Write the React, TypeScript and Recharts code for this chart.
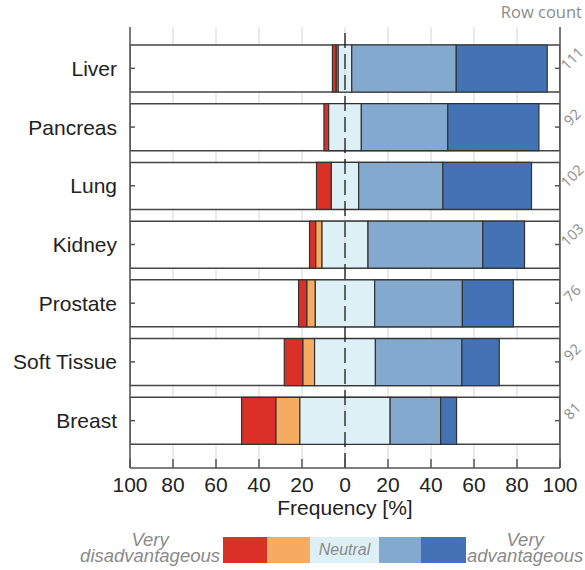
import React from 'react';
import { ComposedChart, Bar, XAxis, YAxis, CartesianGrid, ReferenceLine, Label } from 'recharts';

const categories = ['Liver', 'Pancreas', 'Lung', 'Kidney', 'Prostate', 'Soft Tissue', 'Breast'];
const rowCounts = [111, 92, 102, 103, 76, 92, 81];
const veryDisadvantageous = [1.8, 2.2, 6.9, 2.9, 3.9, 8.7, 16.0];
const disadvantageous = [0.9, 0, 0, 2.9, 3.9, 5.4, 11.1];
const neutral = [6.3, 15.2, 12.7, 21.4, 27.6, 28.3, 42.0];
const advantageous = [48.6, 40.2, 39.2, 53.4, 40.8, 40.2, 23.5];
const veryAdvantageous = [42.3, 42.4, 41.2, 19.4, 23.7, 17.4, 7.4];
const xTicks = [-100, -80, -60, -40, -20, 0, 20, 40, 60, 80, 100];

const legendLabels = ['Very disadvantageous', 'Disadvantageous', 'Neutral', 'Advantageous', 'Very advantageous'];
const COLORS = ['#da3027', '#f5ac62', '#ddf0f6', '#84a9cf', '#4373b5'];
const LEGEND_WIDTHS = [44, 43, 69, 42, 45];

const rows = categories.map((name, i) => {
  const h = neutral[i] / 2;
  const d = disadvantageous[i];
  const vd = veryDisadvantageous[i];
  const a = advantageous[i];
  const va = veryAdvantageous[i];
  return {
    name,
    box: [-100, 100],
    vd: [-(h + d + vd), -(h + d)],
    d: [-(h + d), -h],
    n: [-h, h],
    a: [h, h + a],
    va: [h + a, h + a + va],
  };
});

const FRAME = '#555555';
const SANS = '"Liberation Sans", Arial, sans-serif';
const OPEN = '"Open Sans", sans-serif';

const RowCountTick = (props: any) => {
  const { x, y, index } = props;
  const cx = x;
  const cy = y - 10;
  return (
    <text
      x={cx}
      y={cy}
      transform={`rotate(-45 ${cx} ${cy})`}
      textAnchor="middle"
      dominantBaseline="central"
      fontSize={14.5}
      fontFamily={OPEN}
      fill="#8c8c8c"
    >
      {rowCounts[index]}
    </text>
  );
};

export default function App() {
  const segStroke = '#333333';
  const yPad = { top: 12, bottom: 18 };
  return (
    <div style={{ position: 'absolute', left: 0, top: 0, width: 585, height: 570, background: '#fff' }}>
      <ComposedChart
        width={585}
        height={570}
        data={rows}
        layout="vertical"
        margin={{ top: 27, right: 5, bottom: 42, left: 10 }}
        barSize={47}
        barGap={-47}
      >
        <CartesianGrid horizontal={false} vertical={true} stroke="#dcdcdc" strokeWidth={1.2} />
        <Bar dataKey="box" fill="#ffffff" stroke="#444" strokeWidth={1.5} isAnimationActive={false} />
        <Bar dataKey="vd" fill={COLORS[0]} stroke={segStroke} strokeWidth={1.2} isAnimationActive={false} />
        <Bar dataKey="d" fill={COLORS[1]} stroke={segStroke} strokeWidth={1.2} isAnimationActive={false} />
        <Bar dataKey="n" fill={COLORS[2]} stroke={segStroke} strokeWidth={1.2} isAnimationActive={false} />
        <Bar dataKey="a" fill={COLORS[3]} stroke={segStroke} strokeWidth={1.2} isAnimationActive={false} />
        <Bar dataKey="va" fill={COLORS[4]} stroke={segStroke} strokeWidth={1.2} isAnimationActive={false} />
        <ReferenceLine x={0} stroke="#1a1a1a" strokeWidth={1.3} strokeDasharray="15 6" />
        <XAxis
          type="number"
          domain={[-100, 100]}
          ticks={xTicks}
          interval={0}
          allowDataOverflow
          height={60}
          tickSize={-9}
          tickMargin={18}
          tickFormatter={(v: number) => String(Math.abs(v))}
          tick={{ fontSize: 21, fill: '#222', fontFamily: SANS }}
          axisLine={{ stroke: FRAME, strokeWidth: 1.5 }}
          tickLine={{ stroke: FRAME, strokeWidth: 1.5 }}
        >
          <Label value="Frequency [%]" position="insideBottom" offset={13} style={{ fontSize: 21, fill: '#222', fontFamily: SANS }} />
        </XAxis>
        <XAxis
          xAxisId="top"
          orientation="top"
          type="number"
          domain={[-100, 100]}
          ticks={xTicks}
          interval={0}
          allowDataOverflow
          height={0}
          tickSize={-8}
          tick={false}
          axisLine={{ stroke: FRAME, strokeWidth: 1.5 }}
          tickLine={{ stroke: FRAME, strokeWidth: 1.5 }}
        />
        <YAxis
          type="category"
          dataKey="name"
          width={120}
          padding={yPad}
          tickSize={-5}
          tickMargin={18}
          tick={{ fontSize: 21, fill: '#222', fontFamily: SANS }}
          axisLine={{ stroke: FRAME, strokeWidth: 1.5 }}
          tickLine={{ stroke: FRAME, strokeWidth: 1.5 }}
        />
        <YAxis
          yAxisId="right"
          orientation="right"
          type="category"
          dataKey="name"
          width={20}
          padding={yPad}
          tickSize={-5}
          tickMargin={17}
          tick={<RowCountTick />}
          axisLine={{ stroke: FRAME, strokeWidth: 1.5 }}
          tickLine={{ stroke: FRAME, strokeWidth: 1.5 }}
        />
      </ComposedChart>
      <div
        style={{
          position: 'absolute',
          right: 3,
          top: 2,
          fontFamily: OPEN,
          fontSize: 16.5,
          color: '#8c8c8c',
          lineHeight: '20px',
          whiteSpace: 'nowrap',
        }}
      >
        Row count
      </div>
      <div
        style={{
          position: 'absolute',
          left: 0,
          top: 532,
          width: 220,
          textAlign: 'center',
          fontFamily: SANS,
          fontStyle: 'italic',
          fontSize: 18.5,
          lineHeight: '16px',
          color: '#8a8a8a',
        }}
      >
        <div style={{ position: 'absolute', right: 0, top: 0, textAlign: 'center', whiteSpace: 'nowrap' }}>
          Very
          <br />
          disadvantageous
        </div>
      </div>
      <div style={{ position: 'absolute', left: 223, top: 537, display: 'flex', height: 26 }}>
        {legendLabels.map((lab, i) => (
          <div
            key={lab}
            title={lab}
            style={{
              width: LEGEND_WIDTHS[i],
              height: 26,
              background: COLORS[i],
              display: 'flex',
              alignItems: 'center',
              justifyContent: 'center',
              fontFamily: SANS,
              fontStyle: 'italic',
              fontSize: 16,
              color: '#8a8a8a',
            }}
          >
            {i === 2 ? 'Neutral' : ''}
          </div>
        ))}
      </div>
      <div
        style={{
          position: 'absolute',
          left: 467,
          top: 532,
          textAlign: 'center',
          whiteSpace: 'nowrap',
          fontFamily: SANS,
          fontStyle: 'italic',
          fontSize: 18.5,
          lineHeight: '16px',
          color: '#8a8a8a',
        }}
      >
        Very
        <br />
        advantageous
      </div>
    </div>
  );
}
